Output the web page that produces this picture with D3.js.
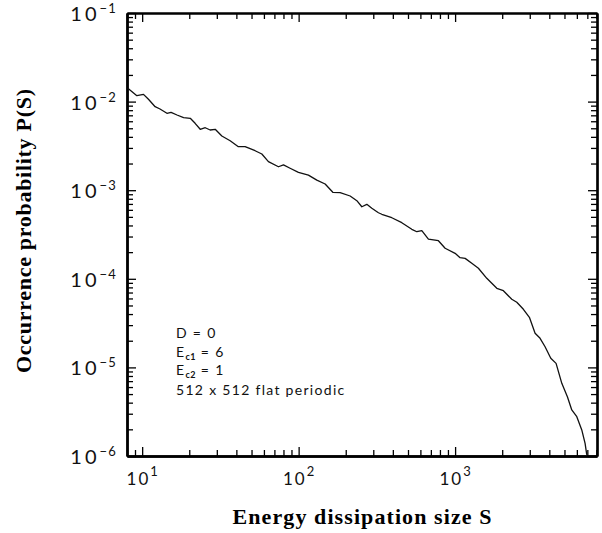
<!DOCTYPE html>
<html>
<head>
<meta charset="utf-8">
<script src="https://cdn.jsdelivr.net/npm/d3@7"></script>
<style>
  body { margin: 0; background: #fff; }
  .tick text { display: none; }
  .lbl { font-family: "Lato", "DejaVu Sans", sans-serif; font-weight: 400; fill: #111; }
  .title { font-family: "Liberation Serif", "Times New Roman", serif; font-weight: bold; fill: #000; }
</style>
</head>
<body>
<svg id="chart" width="602" height="533"></svg>
<script>
// energy dissipation size S and occurrence probability P(S)
const sizeS = [8.1, 9.25, 10.2, 10.97, 12.1, 13.0, 14.4, 15.3, 16.7, 18.4, 20.3, 21.8, 23.5, 25.3, 27.2, 29.3,
  32.3, 36.5, 41.2, 45.5, 52.7, 58.2, 64.1, 74.3, 80.0, 88.2, 99.7, 115.5, 130.7, 147.7, 165.4, 184.2,
  213.4, 235.5, 253.4, 272.8, 293.7, 323.6, 340.2, 393.9, 456.4, 528.8, 569.3, 612.7, 675.2, 782.2,
  863.3, 1000, 1076, 1159, 1278, 1409, 1594, 1716, 1848, 2035, 2303, 2479, 2732, 2984, 3245, 3492,
  3759, 4088, 4419, 4807, 5220, 5568, 5995, 6450, 6772, 6943]
const probP = [0.01413, 0.01167, 0.01207, 0.01062, 0.00876, 0.00825, 0.00738, 0.00757, 0.00706, 0.00658,
  0.00648, 0.00569, 0.00487, 0.00507, 0.00478, 0.00487, 0.00409, 0.00362, 0.00310, 0.00310, 0.00279,
  0.00256, 0.00210, 0.00184, 0.00193, 0.00177, 0.00159, 0.00148, 0.00130, 0.001175, 0.000947, 0.000937,
  0.000860, 0.000761, 0.000651, 0.000693, 0.000625, 0.000557, 0.000535, 0.000489, 0.000430, 0.000362,
  0.000340, 0.000349, 0.000281, 0.000269, 0.000221, 0.000194, 0.000173, 0.000170, 0.0001496, 0.0001314,
  0.0001013, 0.0000890, 0.0000781, 0.0000734, 0.0000587, 0.0000543, 0.0000453, 0.0000368, 0.0000243,
  0.0000213, 0.0000171, 0.0000127, 0.0000111, 0.00000661, 0.00000467, 0.00000331, 0.00000278,
  0.00000197, 0.00000139, 0.00000103]

const xLabelExp = [1, 2, 3]
const yLabelExp = [-1, -2, -3, -4, -5, -6]

const notes = [
  {main: "D = 0", sub: "", rest: ""},
  {main: "E", sub: "c1", rest: " = 6"},
  {main: "E", sub: "c2", rest: " = 1"},
  {main: "512 x 512 flat periodic", sub: "", rest: ""}
]

const xTitle = "Energy dissipation size S"
const yTitle = "Occurrence probability P(S)"

const plotL = 127, plotR = 597, plotT = 13, plotB = 456

const x = d3.scaleLog().domain([8, 8070]).range([plotL, plotR])
const y = d3.scaleLog().domain([1e-6, 1e-1]).range([plotB, plotT])

const svg = d3.select('#chart')

const isMajor = v => Math.abs(Math.log10(v) - Math.round(Math.log10(v))) < 1e-9
const xMinor = x.ticks().filter(v => !isMajor(v))
const xMajor = x.ticks().filter(isMajor)
const yMinor = y.ticks().filter(v => !isMajor(v))
const yMajor = y.ticks().filter(isMajor)

function drawAxis(axisFn, scale, tx, ty, width){
  const g = svg.append('g').attr('transform', `translate(${tx},${ty})`)
  const minor = scale === x ? xMinor : yMinor
  const major = scale === x ? xMajor : yMajor
  g.append('g').call(axisFn(scale).tickValues(minor).tickSize(-6).tickSizeOuter(0).tickFormat(''))
  g.append('g').call(axisFn(scale).tickValues(major).tickSize(-9).tickSizeOuter(0).tickFormat(''))
  g.selectAll('.domain').attr('stroke', '#000').attr('stroke-width', width)
  g.selectAll('.tick line').attr('stroke', '#000').attr('stroke-width', 1.3)
}

drawAxis(d3.axisBottom, x, 0, plotB, 2.4)
drawAxis(d3.axisTop, x, 0, plotT, 1.8)
drawAxis(d3.axisLeft, y, plotL, 0, 2.4)
drawAxis(d3.axisRight, y, plotR, 0, 2.2)

// curve
const line = d3.line()
  .x(i => x(sizeS[i]))
  .y(i => y(probP[i]))

svg.append('path')
  .attr('d', line(d3.range(sizeS.length)))
  .attr('fill', 'none')
  .attr('stroke', '#111')
  .attr('stroke-width', 1.3)
  .attr('stroke-linejoin', 'round')

// y tick labels
yLabelExp.forEach(e => {
  const t = svg.append('text').attr('class', 'lbl')
    .attr('x', 117).attr('y', y(Math.pow(10, e)) + 8)
    .attr('text-anchor', 'end')
  t.append('tspan').text('10').attr('font-size', 20).attr('letter-spacing', 3)
  t.append('tspan').text('\u2212' + Math.abs(e)).attr('font-size', 13).attr('dy', -8).attr('letter-spacing', 1.2)
})

// x tick labels
xLabelExp.forEach(e => {
  const t = svg.append('text').attr('class', 'lbl')
    .attr('x', x(Math.pow(10, e))).attr('y', 485)
    .attr('text-anchor', 'middle')
  t.append('tspan').text('10').attr('font-size', 17).attr('letter-spacing', 2)
  t.append('tspan').text(e).attr('font-size', 13).attr('dy', -9)
})

// annotation
const noteY = [338, 357, 375, 395]
notes.forEach((n, i) => {
  const t = svg.append('text').attr('class', 'lbl')
    .attr('x', 176).attr('y', noteY[i]).attr('font-size', 14).attr('letter-spacing', 1.3)
  t.append('tspan').text(n.main)
  if (n.sub) {
    t.append('tspan').text(n.sub).attr('font-size', 9).attr('dy', 3).attr('font-weight', 'bold').attr('letter-spacing', 0.5)
    t.append('tspan').text(n.rest).attr('dy', -3)
  }
})

// axis titles
svg.append('text').attr('class', 'title')
  .attr('x', 362).attr('y', 524)
  .attr('text-anchor', 'middle')
  .attr('font-size', 22)
  .attr('textLength', 259)
  .attr('lengthAdjust', 'spacing')
  .text(xTitle)

svg.append('text').attr('class', 'title')
  .attr('transform', 'translate(31,231) rotate(-90)')
  .attr('text-anchor', 'middle')
  .attr('font-size', 22)
  .attr('textLength', 284)
  .attr('lengthAdjust', 'spacing')
  .text(yTitle)
</script>
</body>
</html>
